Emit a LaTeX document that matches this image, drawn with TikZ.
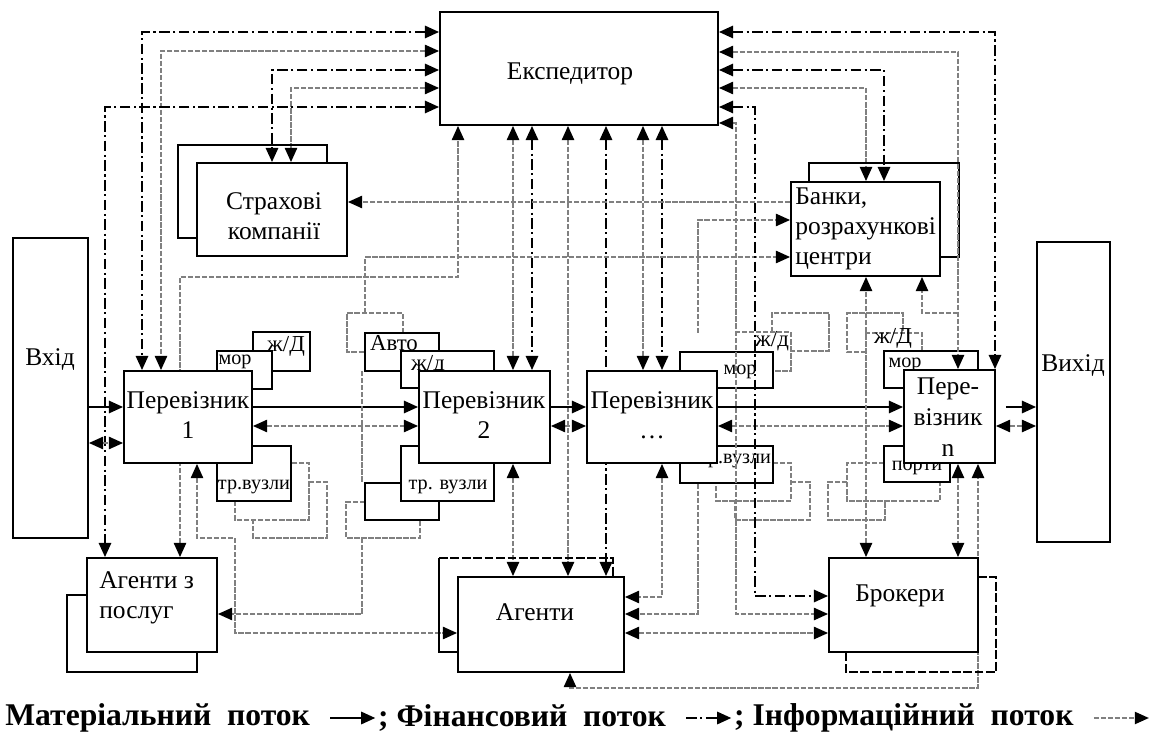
\documentclass[tikz,border=0pt]{standalone}
\usepackage{fontspec}
\setmainfont{Liberation Serif}
\usetikzlibrary{arrows.meta,positioning,fit}
\pgfdeclarelayer{bg}
\pgfdeclarelayer{fg}
\pgfsetlayers{bg,main,fg}
\newcommand{\lblbig}{\fontsize{13}{14}\selectfont}

\begin{document}
\begin{tikzpicture}
[x=0.02cm,y=-0.02cm,
  box/.style={draw,line width=1.1pt,fill=white,inner sep=0pt},
  backline/.style={line width=1.1pt},
  backdash/.style={line width=1.1pt,dash pattern=on 5pt off 1.5pt},
  txt/.style={font=\fontsize{14.5}{17}\selectfont,align=center,inner sep=0pt},
  small/.style={font=\fontsize{11.5}{12}\selectfont,inner sep=0pt},
  leg/.style={font=\fontsize{18}{20}\selectfont\bfseries,inner sep=0pt},
  mat/.style={line width=1.1pt},
  fin/.style={line width=1.1pt,dash pattern=on 6pt off 2pt on 1.2pt off 2pt},
  inf/.style={black!50,line width=0.8pt,dash pattern=on 3pt off 1pt},
  oneway/.style={-{Triangle[length=8pt,width=7pt,color=black]}},
  twoway/.style={{Triangle[length=8pt,width=7pt,color=black]}-{Triangle[length=8pt,width=7pt,color=black]}}]

\useasboundingbox (0,0) rectangle (1158,739);

%% sub boxes of the carriers
\foreach \nm/\xa/\ya/\xb/\yb/\lx/\ly/\t in {zd1/253/332/310/371/286/346/{\lblbig ж/Д},
  mor1/217/351/272/389/235/362/{мор}, vuz1/217/446/291/501/254/487/{тр.вузли},
  avto/365/333/439/371/394/343/{\lblbig Авто}, zd2/401/351/494/388/428/365/{\lblbig ж/д},
  vuzb2/365/483/439/520/402/500/{}, vuz2/401/446/494/501/448/487/{тр. вузли},
  mor3/680/352/773/388/740/372/{мор}, vuz3/680/446/773/483/735/461/{тр.вузли},
  mor4/884/351/978/388/905/365/{мор}, por4/884/446/950/482/917/468/{порти}} {
  \node[box,fit={(\xa,\ya) (\xb,\yb)}] (\nm) {};
  \node[small] (\nm t) at (\lx,\ly) {\t};
}
\node[small] (zd3t) at (772,341) {\lblbig ж/д};
\node[small] (zd4t) at (893,338) {\lblbig ж/Д};

%% main boxes
\node[box,fit={(440,12) (718,125)}] (exp) {};
\node[txt] (exptxt) at (570,74) {Експедитор};
\draw[backline] (327,163) |- (178,145) |- (197,238);
\node[box,fit={(197,163) (347,256)}] (ins) {};
\node[txt] (instxt) at (274,216) {Страхові\\компанії};
\draw[backline] (809,182) |- (959,163) |- (940,257);
\node[box,fit={(791,182) (940,276)}] (bank) {};
\node[txt,align=left,anchor=west] (banktxt) at (795,229) {Банки,\\розрахункові\\центри};
\node[box,fit={(13,238) (88,538)}] (vin) {};
\node[txt] (vintxt) at (50,360) {Вхід};
\node[box,fit={(1037,242) (1110,542)}] (vout) {};
\node[txt] (vouttxt) at (1073,366) {Вихід};
\node[box,fit={(124,371) (252,463)}] (c1) {};
\node[txt] (c1txt) at (188,415) {Перевізник\\1};
\node[box,fit={(419,371) (550,463)}] (c2) {};
\node[txt] (c2txt) at (484,415) {Перевізник\\2};
\node[box,fit={(587,371) (717,463)}] (c3) {};
\node[txt] (c3txt) at (652,415) {Перевізник\\…};
\node[box,fit={(904,370) (995,463)}] (c4) {};
\node[txt,font=\fontsize{14.5}{17.5}\selectfont] (c4txt) at (948,417) {Пере-\\візник\\n};
\draw[backline] (87,595) -| (67,672) -| (197,652);
\node[box,fit={(87,558) (217,652)}] (ags) {};
\node[txt,align=left,anchor=west] (agstxt) at (99,598) {Агенти з\\послуг};
\draw[backline] (458,652) -| (439,558);
\draw[backdash] (439,558) -| (613,577);
\node[box,fit={(458,577) (624,672)}] (agt) {};
\node[txt] (agttxt) at (535,612) {Агенти};
\draw[backdash] (978,577) -| (996,672) -| (846,652);
\node[box,fit={(829,558) (978,652)}] (brk) {};
\node[txt] (brktxt) at (900,596) {Брокери};

\begin{pgfonlayer}{bg}
%% forwarder, left side
\draw[fin,twoway] (exp.west |- 0,32) -| (142,0 |- c1.north);
\draw[inf,twoway] (exp.west |- 0,51) -| (161,0 |- c1.north);
\draw[fin,twoway] (exp.west |- 0,70) -| (272,0 |- ins.north);
\draw[inf,twoway] (exp.west |- 0,88) -| (291,0 |- ins.north);
\draw[fin,twoway] (exp.west |- 0,107) -| (105,0 |- ags.north);
%% forwarder, right side
\draw[fin,twoway] (exp.east |- 0,32) -| (995,0 |- c4.north);
\draw[fin,twoway] (exp.east |- 0,70) -| (884,0 |- bank.north);
\draw[inf,twoway] (exp.east |- 0,88) -| (866,0 |- bank.north);
%% forwarder, bottom side
\draw[inf,twoway] (180,0 |- ags.north) |- (458,277) -- (458,0 |- exp.south);
\foreach \x/\st/\tg in {513/inf/c2, 532/fin/c2, 568/inf/agt, 606/fin/agt, 643/inf/c3, 662/fin/c3}
  \draw[\st,twoway] (\x,0 |- exp.south) -- (\x,0 |- \tg.north);
%% chain of carriers
\draw[mat,oneway] (vin.east |- 0,407) -- (c1.west |- 0,407);
\draw[inf,twoway] (vin.east |- 0,443) -- (c1.west |- 0,443);
\foreach \a/\b in {c1/c2, c2/c3, c3/c4} {
  \draw[mat,oneway] (\a.east |- 0,407) -- (\b.west |- 0,407);
  \draw[inf,twoway] (\a.east |- 0,426) -- (\b.west |- 0,426);
}
\draw[mat,oneway,shorten <=2mm] (c4.east |- 0,407) -- (vout.west |- 0,407);
\draw[inf,twoway] (c4.east |- 0,426) -- (vout.west |- 0,426);
%% banks
\draw[inf,oneway] (bank.west |- 0,202) -- (ins.east |- 0,202);
\draw[inf,oneway] (698,333) |- (bank.west |- 0,220);
\draw[inf,oneway] (365,313) |- (bank.west |- 0,257);
\draw[inf,twoway] (866,0 |- brk.north) -- (866,0 |- bank.south);
\draw[inf,oneway] (958,313) -| (922,0 |- bank.south);
%% agents and brokers
\draw[inf,twoway] (513,0 |- c2.south) -- (513,0 |- agt.north);
\draw[inf,twoway] (662,0 |- c3.south) |- (agt.east |- 0,597);
\draw[inf,oneway] (698,0 |- vuz3.south) |- (agt.east |- 0,614);
\draw[inf,twoway] (agt.east |- 0,633) -- (brk.west |- 0,633);
\draw[inf,twoway] (570,0 |- agt.south) |- (978,688) -- (978,0 |- c4.south);
\draw[inf,twoway] (958,0 |- c4.south) -- (958,0 |- brk.north);
\draw[inf,twoway] (197,0 |- c1.south) -- (197,538) -| (235,633) -- (agt.west |- 0,633);
\draw[inf,oneway] (362,538) |- (ags.east |- 0,614);
\draw[inf] (362,371) -- (362,483);
%% loops round the sub boxes
\draw[inf] (235,501) |- (309,520) |- (291,463);
\draw[inf] (309,482) -| (327,538) -| (253,520);
\draw[inf] (365,502) -| (346,538) -| (420,520);
\draw[inf] (403,333) |- (347,313) |- (365,352);
\draw[inf] (735,332) -| (791,371) -- (773,371);
\draw[inf] (772,332) |- (829,313) |- (791,351);
\draw[inf] (773,463) -| (791,501) -| (716,483);
\draw[inf] (791,482) -| (810,520) -| (735,501);
\draw[inf] (865,333) -| (922,351);
\draw[inf] (866,352) -| (847,313) -| (903,333);
\draw[inf] (884,463) -| (847,501) -| (940,482);
\draw[inf] (847,482) -| (828,520) -| (885,501);
\end{pgfonlayer}

\begin{pgfonlayer}{fg}
\draw[inf,twoway] (exp.east |- 0,52) -| (958,0 |- c4.north);
\draw[fin,twoway] (exp.east |- 0,107) -| (755,596) -- (brk.west |- 0,596);
\draw[inf,twoway] (exp.east |- 0,123) -| (736,614) -- (brk.west |- 0,614);
\end{pgfonlayer}

%% legend
\node[leg,anchor=west] (legm) at (5,718) {Матеріальний\ \ поток};
\coordinate[right=4mm of legm.east] (legm1);
\coordinate[right=9mm of legm1] (legm2);
\draw[mat,oneway] (legm1) -- (legm2);
\node[leg,right=0.5mm of legm2] (legf) {;\ Фінансовий\ \ поток};
\coordinate[right=4mm of legf.east] (legf1);
\coordinate[right=9mm of legf1] (legf2);
\draw[fin,oneway] (legf1) -- (legf2);
\node[leg,right=0.5mm of legf2] (legi) {;\ Інформаційний\ \ поток};
\coordinate[right=4mm of legi.east] (legi1);
\coordinate[right=11mm of legi1] (legi2);
\draw[inf,oneway] (legi1) -- (legi2);
\end{tikzpicture}
\end{document}
